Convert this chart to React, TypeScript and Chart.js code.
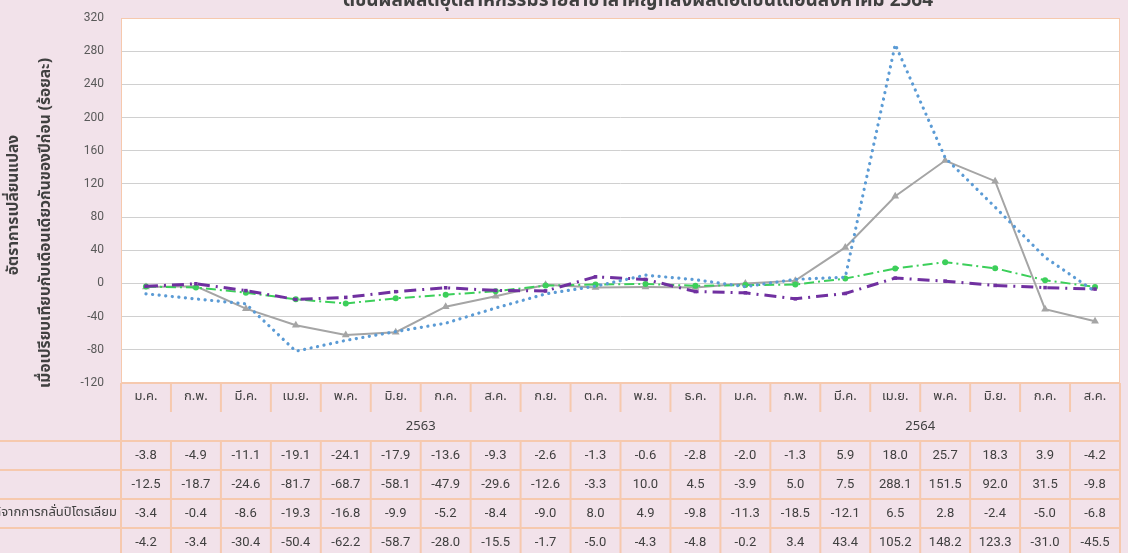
import React, { useEffect, useRef } from "react";
import { Chart, registerables } from "chart.js";

Chart.register(...registerables);

const titleText = "ดัชนีผลผลิตอุตสาหกรรมรายสาขาสำคัญที่ส่งผลต่อดัชนีเดือนสิงหาคม 2564";
const yTitleLine1 = "อัตราการเปลี่ยนแปลง";
const yTitleLine2 = "เมื่อเปรียบเทียบกับเดือนเดียวกันของปีก่อน (ร้อยละ)";

const months = ["ม.ค.", "ก.พ.", "มี.ค.", "เม.ย.", "พ.ค.", "มิ.ย.", "ก.ค.", "ส.ค.", "ก.ย.", "ต.ค.", "พ.ย.", "ธ.ค.", "ม.ค.", "ก.พ.", "มี.ค.", "เม.ย.", "พ.ค.", "มิ.ย.", "ก.ค.", "ส.ค."];
const yearLabels = ["2563", "2564"];
const yearSpans = [12, 8];

const rowLabels = ["", "", "ผลิตภัณฑ์ที่ได้จากการกลั่นปิโตรเลียม", ""];

const seriesGreen = [-3.8, -4.9, -11.1, -19.1, -24.1, -17.9, -13.6, -9.3, -2.6, -1.3, -0.6, -2.8, -2.0, -1.3, 5.9, 18.0, 25.7, 18.3, 3.9, -4.2];
const seriesBlue = [-12.5, -18.7, -24.6, -81.7, -68.7, -58.1, -47.9, -29.6, -12.6, -3.3, 10.0, 4.5, -3.9, 5.0, 7.5, 288.1, 151.5, 92.0, 31.5, -9.8];
const seriesPurple = [-3.4, -0.4, -8.6, -19.3, -16.8, -9.9, -5.2, -8.4, -9.0, 8.0, 4.9, -9.8, -11.3, -18.5, -12.1, 6.5, 2.8, -2.4, -5.0, -6.8];
const seriesGray = [-4.2, -3.4, -30.4, -50.4, -62.2, -58.7, -28.0, -15.5, -1.7, -5.0, -4.3, -4.8, -0.2, 3.4, 43.4, 105.2, 148.2, 123.3, -31.0, -45.5];

const yMin = -120;
const yMax = 320;
const yStep = 40;

const BG = "#F2E2EA";
const PEACH = "#F6C9AE";
const THAI = "Tahoma, 'Leelawadee UI', 'Noto Sans Thai', 'Noto Sans', sans-serif";
const NUM = "Roboto, 'Noto Sans', sans-serif";

const tablePlugin = {
  id: "tablePlugin",
  beforeDraw(chart: any) {
    const { ctx, chartArea } = chart;
    ctx.save();
    ctx.fillStyle = BG;
    ctx.fillRect(0, 0, chart.width, chart.height);
    ctx.fillStyle = "#FFFFFF";
    ctx.fillRect(chartArea.left, chartArea.top, chartArea.right - chartArea.left, chartArea.bottom - chartArea.top);
    ctx.restore();
  },
  afterDraw(chart: any) {
    const { ctx, chartArea } = chart;
    const x = chart.scales.x;
    const L = chartArea.left;
    const R = chartArea.right;
    const top = chartArea.bottom;
    const n = months.length;
    const colW = (R - L) / n;
    const monthRowBottom = top + 29;
    const yearRowBottom = top + 58;
    const rowH = 29;
    const allSeries = [seriesGreen, seriesBlue, seriesPurple, seriesGray];
    ctx.save();
    ctx.strokeStyle = PEACH;
    ctx.lineWidth = 1;
    ctx.strokeRect(L + 0.5, chartArea.top + 0.5, R - L - 1, top - chartArea.top);

    ctx.lineWidth = 2;
    ctx.strokeStyle = PEACH;
    ctx.beginPath();
    ctx.moveTo(L, top);
    ctx.lineTo(R, top);
    ctx.stroke();
    for (let i = 0; i <= n; i++) {
      const xx = L + i * colW;
      ctx.beginPath();
      ctx.moveTo(xx, top);
      let endY = top + 29;
      if (i === 0 || i === n || i === yearSpans[0]) endY = yearRowBottom;
      ctx.lineTo(xx, endY);
      ctx.stroke();
    }
    for (let r = 0; r <= allSeries.length; r++) {
      const yy = yearRowBottom + r * rowH;
      ctx.beginPath();
      ctx.moveTo(0, yy);
      ctx.lineTo(R, yy);
      ctx.stroke();
    }
    for (let i = 0; i <= n; i++) {
      const xx = L + i * colW;
      ctx.beginPath();
      ctx.moveTo(xx, yearRowBottom);
      ctx.lineTo(xx, yearRowBottom + rowH * allSeries.length);
      ctx.stroke();
    }

    ctx.fillStyle = "#404040";
    ctx.textAlign = "center";
    ctx.textBaseline = "middle";
    ctx.font = `13px ${THAI}`;
    months.forEach((m, i) => {
      ctx.fillText(m, x.getPixelForValue(i), top + 14);
    });
    let start = 0;
    yearLabels.forEach((yl, k) => {
      const x0 = L + start * colW;
      const x1 = L + (start + yearSpans[k]) * colW;
      ctx.fillText(yl, (x0 + x1) / 2, (monthRowBottom + yearRowBottom) / 2 + 1);
      start += yearSpans[k];
    });
    ctx.font = `13px ${NUM}`;
    allSeries.forEach((s, r) => {
      const cy = yearRowBottom + r * rowH + rowH / 2;
      s.forEach((v, i) => {
        ctx.fillText(v.toFixed(1), x.getPixelForValue(i), cy);
      });
      if (rowLabels[r]) {
        ctx.save();
        ctx.textAlign = "right";
        ctx.font = `13px ${THAI}`;
        ctx.fillText(rowLabels[r], L - 4, cy);
        ctx.restore();
      }
    });

    ctx.fillStyle = "#404040";
    ctx.font = `bold 19px ${THAI}`;
    ctx.textAlign = "center";
    ctx.textBaseline = "alphabetic";
    ctx.fillText(titleText, 638, 6);

    ctx.font = `bold 15.5px ${THAI}`;
    ctx.textBaseline = "middle";
    ctx.save();
    ctx.translate(15, 205);
    ctx.rotate(-Math.PI / 2);
    ctx.fillText(yTitleLine1, 0, 0);
    ctx.restore();
    ctx.save();
    ctx.translate(47, 223);
    ctx.rotate(-Math.PI / 2);
    ctx.fillText(yTitleLine2, 0, 0);
    ctx.restore();
    ctx.restore();
  },
};

export default function App() {
  const ref = useRef<HTMLCanvasElement | null>(null);
  useEffect(() => {
    document.body.style.margin = "0";
    if (!ref.current) return;
    const chart = new Chart(ref.current, {
      type: "line",
      data: {
        labels: months,
        datasets: [
          {
            label: "green",
            data: seriesGreen,
            borderColor: "#3CCF5A",
            backgroundColor: "#3CCF5A",
            borderWidth: 2,
            borderDash: [10, 4, 2, 4],
            pointStyle: "circle",
            pointRadius: 3,
            pointBorderWidth: 0,
            tension: 0,
            order: 3,
          },
          {
            label: "blue",
            data: seriesBlue,
            borderColor: "#5B9BD5",
            backgroundColor: "#5B9BD5",
            borderWidth: 3.2,
            borderDash: [0.1, 6.5],
            borderCapStyle: "round",
            pointRadius: 0,
            tension: 0,
            order: 1,
          },
          {
            label: "purple",
            data: seriesPurple,
            borderColor: "#7030A0",
            backgroundColor: "#7030A0",
            borderWidth: 3,
            borderDash: [12, 6, 2, 6],
            pointStyle: "rect",
            pointRadius: 2.5,
            pointBorderWidth: 0,
            tension: 0,
            order: 2,
          },
          {
            label: "gray",
            data: seriesGray,
            borderColor: "#A5A5A5",
            backgroundColor: "#A5A5A5",
            borderWidth: 2,
            pointStyle: "triangle",
            pointRadius: 4.5,
            pointBorderWidth: 0,
            tension: 0,
            order: 4,
          },
        ],
      },
      options: {
        responsive: false,
        animation: false,
        layout: { autoPadding: false, padding: { left: 0, right: 8, top: 18, bottom: 170 } },
        plugins: { legend: { display: false }, tooltip: { enabled: false }, title: { display: false } },
        scales: {
          x: { display: false, offset: true },
          y: {
            min: yMin,
            max: yMax,
            afterFit: (s: any) => {
              s.width = 121;
              s.paddingTop = 0;
              s.paddingBottom = 0;
            },
            ticks: {
              stepSize: yStep,
              padding: 17,
              color: "#595959",
              font: { family: NUM, size: 12 },
            },
            grid: { color: "#D0D0D0", lineWidth: 1, drawTicks: false },
            border: { display: false },
          },
        },
      },
      plugins: [tablePlugin],
    });
    return () => chart.destroy();
  }, []);
  return (
    <div style={{ width: 1128, height: 553 }}>
      <canvas ref={ref} width={1128} height={553} style={{ display: "block" }} />
    </div>
  );
}
